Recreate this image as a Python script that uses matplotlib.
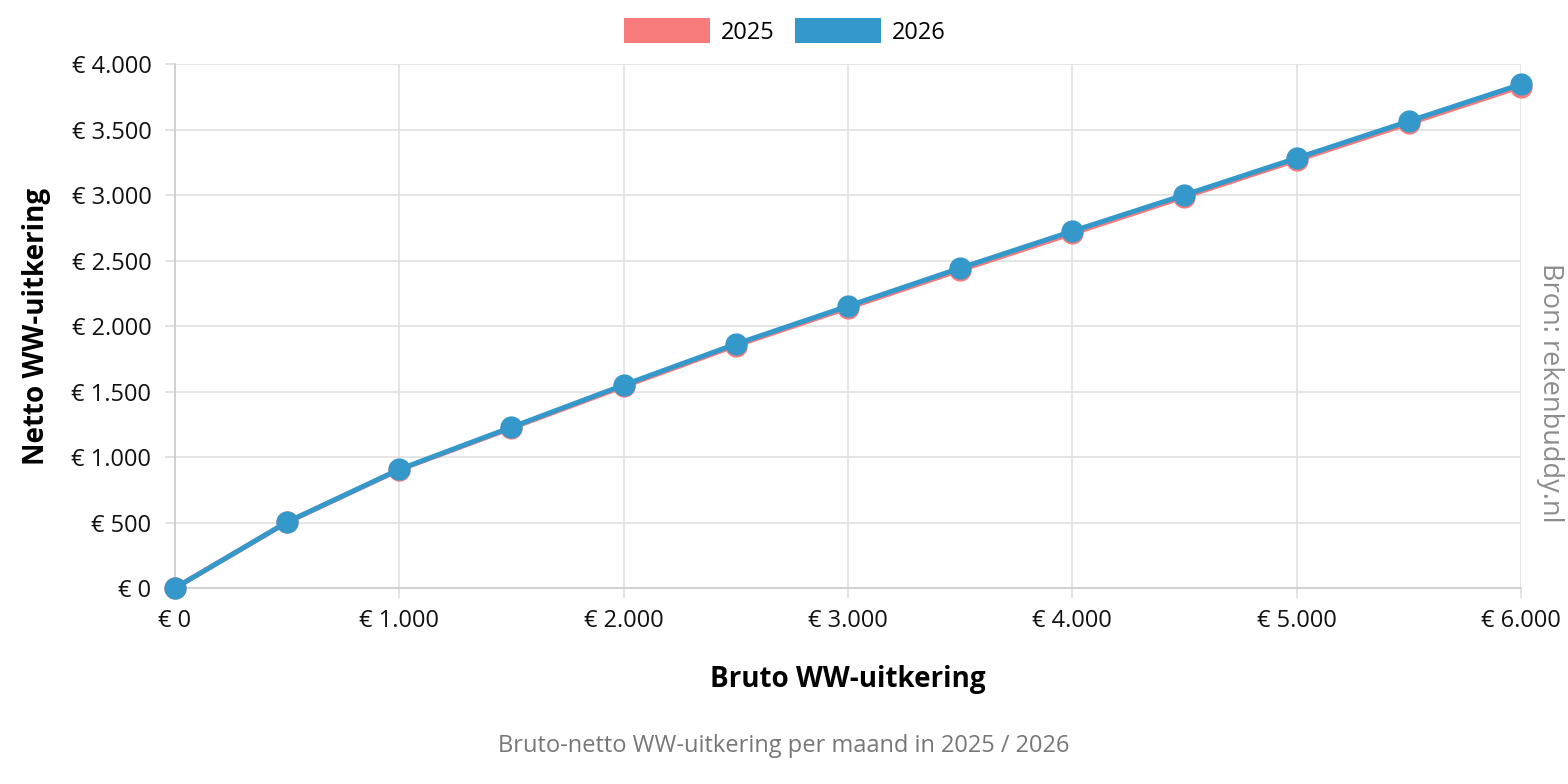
import matplotlib
matplotlib.use("Agg")
import matplotlib.pyplot as plt
from matplotlib.patches import Patch
from matplotlib.ticker import FuncFormatter, MultipleLocator

plt.rcParams["font.family"] = ["Open Sans", "DejaVu Sans"]

bruto = [0, 500, 1000, 1500, 2000, 2500, 3000, 3500, 4000, 4500, 5000, 5500, 6000]
netto_2025 = [0, 502, 903, 1222, 1540, 1852, 2140, 2428, 2708, 2988, 3268, 3548, 3830]
netto_2026 = [0, 504, 906, 1228, 1550, 1863, 2153, 2443, 2725, 3002, 3283, 3565, 3847]
years = ["2025", "2026"]
colors = ["#f77b7b", "#3498cb"]


def euro(v, pos):
    return "€ " + f"{int(v):,}".replace(",", ".")


fig = plt.figure(figsize=(15.68, 7.84), dpi=100)
ax = fig.add_axes([0.1116, 0.25, 0.8584, 0.668])

for vals, col in zip([netto_2025, netto_2026], colors):
    ax.plot(bruto, vals, color=col, lw=3.6, marker="o", ms=15,
            clip_on=False, zorder=3)

ax.set_xlim(0, 6000)
ax.set_ylim(0, 4000)
ax.xaxis.set_major_locator(MultipleLocator(1000))
ax.yaxis.set_major_locator(MultipleLocator(500))
ax.xaxis.set_major_formatter(FuncFormatter(euro))
ax.yaxis.set_major_formatter(FuncFormatter(euro))
ax.grid(True, color="#e0e0e0", lw=1.2)
ax.set_axisbelow(True)
for s in ["top", "right"]:
    ax.spines[s].set_visible(False)
for s in ["left", "bottom"]:
    ax.spines[s].set_color("#cccccc")
    ax.spines[s].set_linewidth(1.2)
ax.tick_params(axis="both", colors="#dddddd", length=7, width=1.2,
               labelcolor="#111111", labelsize=17)
ax.tick_params(axis="x", pad=8)
ax.tick_params(axis="y", pad=10)

ax.set_xlabel("Bruto WW-uitkering", fontsize=20, fontweight="bold", labelpad=23)
ax.set_ylabel("Netto WW-uitkering", fontsize=20, fontweight="bold", labelpad=15)

handles = [Patch(facecolor=c, edgecolor="none", label=y) for c, y in zip(colors, years)]
fig.legend(handles=handles, loc="center", bbox_to_anchor=(0.5005, 0.96), ncol=2,
           frameon=False, fontsize=17, handlelength=3.64, handleheight=1.23,
           columnspacing=0.9, handletextpad=0.45)

fig.text(0.5, 0.0485, "Bruto-netto WW-uitkering per maand in 2025 / 2026",
         ha="center", va="center", fontsize=17, color="#777777")
fig.text(0.9885, 0.499, "Bron: rekenbuddy.nl", rotation=-90, ha="center",
         va="center", fontsize=19.5, color="#8c8c8c")

fig.savefig("out.png", dpi=100)
